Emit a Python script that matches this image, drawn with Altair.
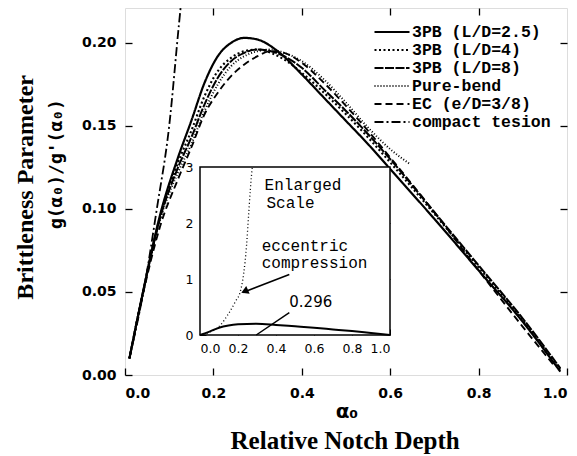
import altair as alt
import pandas as pd

# ---------------- data ----------------
SERIES = ["3PB (L/D=2.5)", "3PB (L/D=4)", "3PB (L/D=8)", "Pure-bend", "EC (e/D=3/8)", "compact tesion"]

a_pb25 = [0.01, 0.04, 0.08, 0.12, 0.15, 0.18, 0.21, 0.24, 0.27, 0.30, 0.35, 0.40, 0.45, 0.50, 0.55, 0.60, 0.70, 0.80, 0.90, 0.985]
g_pb25 = [0.010, 0.049, 0.097, 0.131, 0.153, 0.176, 0.192, 0.200, 0.203, 0.202, 0.194, 0.181, 0.167, 0.153, 0.139, 0.124, 0.094, 0.063, 0.032, 0.002]

a_pb4 = [0.01, 0.04, 0.08, 0.12, 0.15, 0.18, 0.21, 0.24, 0.27, 0.30, 0.33, 0.36, 0.40, 0.45, 0.50, 0.55, 0.60, 0.70, 0.80, 0.90, 0.985]
g_pb4 = [0.010, 0.049, 0.096, 0.128, 0.147, 0.168, 0.183, 0.191, 0.195, 0.196, 0.194, 0.190, 0.182, 0.170, 0.157, 0.143, 0.128, 0.097, 0.065, 0.033, 0.003]

a_pb8 = [0.01, 0.04, 0.08, 0.12, 0.15, 0.18, 0.21, 0.24, 0.27, 0.30, 0.33, 0.36, 0.40, 0.45, 0.50, 0.55, 0.60, 0.70, 0.80, 0.90, 0.985]
g_pb8 = [0.010, 0.049, 0.095, 0.125, 0.143, 0.163, 0.179, 0.189, 0.194, 0.196, 0.195, 0.192, 0.185, 0.172, 0.159, 0.145, 0.130, 0.098, 0.066, 0.034, 0.004]

a_pure = [0.01, 0.04, 0.08, 0.12, 0.15, 0.18, 0.21, 0.24, 0.27, 0.30, 0.33, 0.36, 0.40, 0.45, 0.50, 0.55, 0.60, 0.645]
g_pure = [0.010, 0.049, 0.094, 0.122, 0.139, 0.159, 0.175, 0.186, 0.192, 0.195, 0.196, 0.194, 0.189, 0.178, 0.164, 0.149, 0.136, 0.127]

a_ec = [0.01, 0.04, 0.08, 0.12, 0.15, 0.18, 0.21, 0.24, 0.27, 0.30, 0.33, 0.36, 0.40, 0.45, 0.50, 0.55, 0.60, 0.70, 0.80, 0.90, 0.97]
g_ec = [0.010, 0.048, 0.090, 0.118, 0.137, 0.157, 0.170, 0.180, 0.187, 0.192, 0.195, 0.194, 0.188, 0.176, 0.162, 0.147, 0.131, 0.098, 0.063, 0.029, 0.006]

a_ct = [0.01, 0.045, 0.072, 0.10, 0.122, 0.135]
g_ct = [0.010, 0.055, 0.100, 0.150, 0.211, 0.245]

# inset (enlarged scale)
a_in_ec = [0.0, 0.05, 0.10, 0.15, 0.19, 0.21, 0.23, 0.245, 0.255, 0.265, 0.275]
g_in_ec = [0.0, 0.05, 0.15, 0.38, 0.62, 0.75, 1.10, 1.60, 2.10, 2.60, 3.00]

a_in_ct = [0.0, 0.05, 0.10, 0.15, 0.20, 0.296, 0.40, 0.50, 0.60, 0.70, 0.80, 0.90, 1.0]
g_in_ct = [0.0, 0.06, 0.13, 0.17, 0.19, 0.20, 0.18, 0.155, 0.13, 0.10, 0.07, 0.035, 0.0]

X_TICKS = [0.0, 0.2, 0.4, 0.6, 0.8, 1.0]
Y_TICKS = [0.00, 0.05, 0.10, 0.15, 0.20]
IN_X_TICKS = [0.0, 0.2, 0.4, 0.6, 0.8, 1.0]
IN_Y_TICKS = [0, 1, 2, 3]

# ---------------- styling ----------------
DASHES = [[1, 0], [2, 2.5], [9, 1.5], [1, 2], [7, 4], [9, 3, 2, 3]]
WIDTHS = [2.2, 1.8, 1.4, 1.4, 1.8, 1.6]

W, H = 442, 367

rows = []
for name, xs, ys in zip(SERIES, [a_pb25, a_pb4, a_pb8, a_pure, a_ec, a_ct],
                        [g_pb25, g_pb4, g_pb8, g_pure, g_ec, g_ct]):
    for i, (x, y) in enumerate(zip(xs, ys)):
        rows.append({"series": name, "a": x, "g": y, "i": i})
main_df = pd.DataFrame(rows)

xs_main = alt.Scale(domain=[0, 1], nice=False, zero=False)
ys_main = alt.Scale(domain=[0, 0.221], nice=False, zero=False)

TL = 7
legend = alt.Legend(
    title=None, orient="none", legendX=248, legendY=15, symbolType="stroke",
    symbolSize=1225, symbolStrokeColor="black", labelFont="Liberation Mono",
    labelFontWeight="bold", labelFontSize=16.5, labelOffset=1, rowPadding=0,
    clipHeight=18, labelColor="black", padding=0,
)

curves = alt.Chart(main_df).mark_line(clip=True, color="black", interpolate="monotone").encode(
    x=alt.X("a:Q", scale=xs_main, axis=alt.Axis(
        orient="bottom", values=X_TICKS, format=".1f", offset=-TL, tickSize=TL, tickWidth=1.3,
        tickColor="black", labelPadding=11, domain=False, grid=False, title=None,
        labelFont="DejaVu Sans", labelFontWeight="bold", labelFontSize=14, labelColor="black")),
    y=alt.Y("g:Q", scale=ys_main, axis=alt.Axis(
        orient="left", values=Y_TICKS, format=".2f", offset=-TL, tickSize=TL, tickWidth=1.3,
        tickColor="black", labelPadding=9, domain=False, grid=False, title=None,
        labelFont="DejaVu Sans", labelFontWeight="bold", labelFontSize=14, labelColor="black")),
    strokeDash=alt.StrokeDash("series:N", scale=alt.Scale(domain=SERIES, range=DASHES), legend=legend),
    strokeWidth=alt.StrokeWidth("series:N", scale=alt.Scale(domain=SERIES, range=WIDTHS), legend=legend),
    order="i:Q",
)

tick_df = pd.DataFrame({"a": [0.2, 0.4, 0.6, 0.8], "g": [0.05, 0.10, 0.15, 0.20]})
mirror = alt.Chart(tick_df).mark_point(opacity=0).encode(
    x=alt.X("a:Q", scale=xs_main, axis=alt.Axis(
        orient="top", values=[0.2, 0.4, 0.6, 0.8], labels=False, offset=-TL, tickSize=TL,
        tickWidth=1.3, tickColor="black", domain=False, grid=False, title=None)),
    y=alt.Y("g:Q", scale=ys_main, axis=alt.Axis(
        orient="right", values=[0.05, 0.10, 0.15, 0.20], labels=False, offset=-TL, tickSize=TL,
        tickWidth=1.3, tickColor="black", domain=False, grid=False, title=None)),
)


def text_layer(df, xscale, yscale, **mk):
    return alt.Chart(df).mark_text(color="black", **mk).encode(
        x=alt.X("tx:Q", scale=xscale, axis=None),
        y=alt.Y("ty:Q", scale=yscale, axis=None),
        text="label:N",
    )


ytitle1 = text_layer(pd.DataFrame({"tx": [-0.208], "ty": [0.113], "label": ["Brittleness Parameter"]}),
                     xs_main, ys_main, angle=270, font="Liberation Serif", fontWeight="bold",
                     fontSize=24, align="center", baseline="alphabetic")
ytitle2 = text_layer(pd.DataFrame({"tx": [-0.154], "ty": [0.127], "label": ["g(α₀)/g'(α₀)"]}),
                     xs_main, ys_main, angle=270, font="DejaVu Sans Mono", fontWeight="bold",
                     fontSize=18, align="center", baseline="middle")
xtitle1 = text_layer(pd.DataFrame({"tx": [0.502], "ty": [-0.0256], "label": ["α₀"]}),
                     xs_main, ys_main, font="DejaVu Sans", fontWeight="bold", fontSize=20,
                     align="center", baseline="alphabetic")
xtitle2 = text_layer(pd.DataFrame({"tx": [0.498], "ty": [-0.0446], "label": ["Relative Notch Depth"]}),
                     xs_main, ys_main, font="Liberation Serif", fontWeight="bold", fontSize=25,
                     align="center", baseline="alphabetic")

main = alt.layer(curves, mirror, ytitle1, ytitle2, xtitle1, xtitle2).resolve_axis(x="independent", y="independent")

# ---------------- inset ----------------
xs_in = alt.Scale(domain=[0, 1], range=[75, 265], nice=False, zero=False)
ys_in = alt.Scale(domain=[0, 3], range=[327, 159], nice=False, zero=False)
IT = 6

frame = alt.Chart(pd.DataFrame({"x0": [0.0], "x1": [1.0], "y0": [0.0], "y1": [3.0]})).mark_rect(
    fill="white", stroke="black", strokeWidth=1.5).encode(
    x=alt.X("x0:Q", scale=xs_in, axis=None), x2="x1:Q",
    y=alt.Y("y0:Q", scale=ys_in, axis=None), y2="y1:Q")

in_ct = alt.Chart(pd.DataFrame({"a": a_in_ct, "g": g_in_ct})).mark_line(
    color="black", strokeWidth=2, interpolate="monotone").encode(
    x=alt.X("a:Q", scale=xs_in, axis=alt.Axis(
        orient="bottom", values=IN_X_TICKS, format=".1f", offset=-(H - 327) - IT, tickSize=IT,
        tickColor="black", labelPadding=7, domain=False, grid=False, title=None,
        labelFont="DejaVu Sans", labelFontSize=12.5, labelColor="black")),
    y=alt.Y("g:Q", scale=ys_in, axis=alt.Axis(
        orient="left", values=IN_Y_TICKS, format="d", offset=-75 - IT, tickSize=IT,
        tickColor="black", labelPadding=7, domain=False, grid=False, title=None,
        labelFont="DejaVu Sans", labelFontSize=12.5, labelColor="black")),
)

in_ec = alt.Chart(pd.DataFrame({"a": a_in_ec, "g": g_in_ec})).mark_line(
    color="black", strokeWidth=1.3, strokeDash=[1, 2.5], interpolate="monotone").encode(
    x=alt.X("a:Q", scale=xs_in, axis=None),
    y=alt.Y("g:Q", scale=ys_in, axis=None),
)

in_mirror = alt.Chart(pd.DataFrame({"a": [0.2, 0.4, 0.6, 0.8], "g": [1, 2, 1, 2]})).mark_point(opacity=0).encode(
    x=alt.X("a:Q", scale=xs_in, axis=alt.Axis(
        orient="top", values=[0.2, 0.4, 0.6, 0.8], labels=False, offset=-159 - IT, tickSize=IT,
        tickColor="black", domain=False, grid=False, title=None)),
    y=alt.Y("g:Q", scale=ys_in, axis=alt.Axis(
        orient="right", values=[1, 2], labels=False, offset=-(W - 265) - IT, tickSize=IT,
        tickColor="black", domain=False, grid=False, title=None)),
)

ann_mono = text_layer(pd.DataFrame({
    "tx": [0.34, 0.35, 0.325, 0.325],
    "ty": [2.59, 2.27, 1.50, 1.19],
    "label": ["Enlarged", "Scale", "eccentric", "compression"]}),
    xs_in, ys_in, font="Liberation Mono", fontSize=16, align="left", baseline="alphabetic")
ann_num = text_layer(pd.DataFrame({"tx": [0.47], "ty": [0.50], "label": ["0.296"]}),
                     xs_in, ys_in, font="DejaVu Sans", fontSize=15, align="left", baseline="alphabetic")

arrows = alt.Chart(pd.DataFrame({
    "x0": [0.47, 0.47], "y0": [1.08, 0.40], "x1": [0.225, 0.296], "y1": [0.76, 0.0]})).mark_rule(
    color="black", strokeWidth=1.5).encode(
    x=alt.X("x0:Q", scale=xs_in, axis=None), x2="x1:Q",
    y=alt.Y("y0:Q", scale=ys_in, axis=None), y2="y1:Q")
head = alt.Chart(pd.DataFrame({"x": [0.235], "y": [0.78]})).mark_point(
    shape="triangle-up", filled=True, color="black", size=70, angle=246, opacity=1).encode(
    x=alt.X("x:Q", scale=xs_in, axis=None), y=alt.Y("y:Q", scale=ys_in, axis=None))

inset = alt.layer(frame, in_ct, in_ec, in_mirror, ann_mono, ann_num, arrows, head).resolve_axis(
    x="independent", y="independent")

chart = alt.layer(main, inset).resolve_scale(
    x="independent", y="independent"
).properties(
    width=W, height=H, autosize=alt.AutoSizeParams(type="none"),
    padding={"left": 117, "top": 0, "right": 2, "bottom": 81},
).configure_view(stroke="black", strokeWidth=1.5).configure(background="white")

chart.save("out.html", embed_options={"renderer": "svg", "actions": False})
